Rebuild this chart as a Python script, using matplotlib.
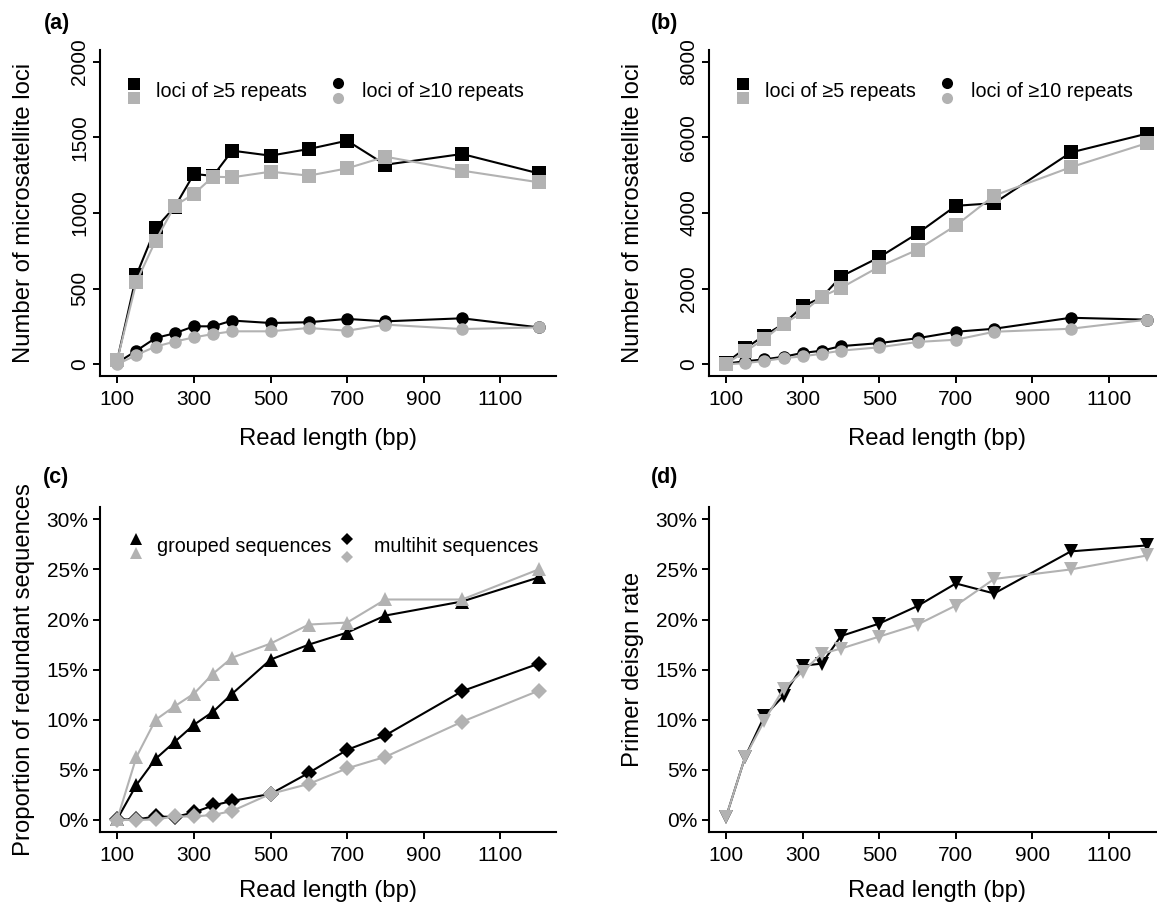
import matplotlib
matplotlib.use("Agg")
import matplotlib.pyplot as plt

plt.rcParams['font.family'] = ['Liberation Sans', 'DejaVu Sans']

# Read lengths sampled (bp)
read_len = [100, 150, 200, 250, 300, 350, 400, 500, 600, 700, 800, 1000, 1200]

# (a) microsatellite loci, first dataset
a_rep5_black = [30, 590, 900, 1040, 1258, 1245, 1412, 1379, 1423, 1478, 1319, 1390, 1262]
a_rep5_gray = [30, 546, 817, 1048, 1126, 1240, 1236, 1273, 1247, 1295, 1372, 1280, 1203]
a_rep10_black = [10, 90, 174, 205, 251, 251, 289, 273, 278, 300, 284, 304, 244]
a_rep10_gray = [0, 62, 117, 150, 178, 200, 218, 218, 240, 222, 262, 233, 244]

# (b) microsatellite loci, second dataset
b_rep5_black = [40, 420, 760, 1070, 1530, 1770, 2320, 2830, 3460, 4190, 4260, 5600, 6100]
b_rep5_gray = [10, 340, 670, 1070, 1370, 1790, 2020, 2580, 3030, 3670, 4460, 5210, 5850]
b_rep10_black = [20, 80, 130, 200, 300, 360, 480, 560, 690, 860, 940, 1230, 1180]
b_rep10_gray = [0, 30, 90, 160, 210, 280, 360, 450, 590, 650, 860, 940, 1180]

# (c) proportion of redundant sequences (%)
c_group_black = [0.1, 3.5, 6.1, 7.8, 9.5, 10.8, 12.6, 16.0, 17.5, 18.7, 20.4, 21.8, 24.2]
c_group_gray = [0.1, 6.3, 10.0, 11.35, 12.6, 14.6, 16.2, 17.6, 19.5, 19.7, 22.0, 22.0, 25.0]
c_multi_black = [0.05, 0.05, 0.35, 0.3, 0.75, 1.45, 1.9, 2.6, 4.7, 7.0, 8.45, 12.85, 15.6]
c_multi_gray = [0.0, 0.0, 0.05, 0.35, 0.35, 0.5, 0.9, 2.6, 3.6, 5.15, 6.3, 9.8, 12.9]

# (d) primer design rate (%)
d_black = [0.3, 6.3, 10.35, 12.4, 15.4, 15.6, 18.35, 19.6, 21.35, 23.6, 22.6, 26.8, 27.4]
d_gray = [0.3, 6.3, 9.9, 13.1, 14.8, 16.6, 17.1, 18.3, 19.5, 21.4, 24.05, 25.0, 26.4]

x_ticks = [100, 300, 500, 700, 900, 1100]
a_yticks = [0, 500, 1000, 1500, 2000]
b_yticks = [0, 2000, 4000, 6000, 8000]
pct_ticks = [0, 5, 10, 15, 20, 25, 30]

BLACK = "#000000"
GRAY = "#b2b2b2"
W, H = 1157, 907

fig = plt.figure(figsize=(W / 100, H / 100), dpi=100)


def px_axes(left, top, right, bottom):
    return fig.add_axes([left / W, 1 - bottom / H, (right - left) / W, (bottom - top) / H])


ax_a = px_axes(100.45, 49.6, 555.5, 376.4)
ax_b = px_axes(709.2, 49.6, 1164.2, 376.4)
ax_c = px_axes(100.45, 507.3, 555.5, 832.0)
ax_d = px_axes(709.2, 507.3, 1164.2, 832.0)


def style_axes(ax, yticks, ylabels, top, rotate):
    # R-like "L" box: 4% padding beyond the data range
    ax.set_xlim(56, 1244)
    ax.set_ylim(-0.04 * top, 1.04 * top)
    for s in ("top", "right"):
        ax.spines[s].set_visible(False)
    for s in ("left", "bottom"):
        ax.spines[s].set_linewidth(1.5)
    ax.set_xticks(x_ticks)
    ax.set_xticklabels([str(t) for t in x_ticks])
    ax.set_yticks(yticks)
    ax.set_yticklabels(ylabels)
    ax.tick_params(axis="both", direction="out", length=5, width=1.4,
                   labelsize=15, colors="black")
    ax.tick_params(axis="x", pad=5)
    if rotate:
        ax.tick_params(axis="y", pad=3)
        for lab in ax.get_yticklabels():
            lab.set_rotation(90)
            lab.set_va("center")
    else:
        ax.tick_params(axis="y", pad=3.5)
    ax.set_facecolor("none")


def series(ax, y, color, marker, ms):
    ax.plot(read_len, y, color=color, lw=1.5, marker=marker, ms=ms,
            mew=0, clip_on=False, zorder=3)


def legend_marker(ax, dx, dy, color, marker, ms):
    pos = ax.get_position()
    aw, ah = pos.width * W, pos.height * H
    ax.plot([dx / aw], [1 - dy / ah], transform=ax.transAxes, ls="none",
            marker=marker, ms=ms, mew=0, color=color, clip_on=False, zorder=4)


def legend_text(ax, dx, dy, text):
    pos = ax.get_position()
    aw, ah = pos.width * W, pos.height * H
    ax.text(dx / aw, 1 - dy / ah, text, transform=ax.transAxes,
            ha="left", va="center", fontsize=14.2)


# panels (a) and (b): loci counts
for ax, s5k, s5g, s10k, s10g, yt, top in (
        (ax_a, a_rep5_black, a_rep5_gray, a_rep10_black, a_rep10_gray, a_yticks, 2000),
        (ax_b, b_rep5_black, b_rep5_gray, b_rep10_black, b_rep10_gray, b_yticks, 8000)):
    style_axes(ax, yt, [str(t) for t in yt], top, rotate=True)
    series(ax, s5k, BLACK, "s", 10)
    series(ax, s10k, BLACK, "o", 9)
    series(ax, s5g, GRAY, "s", 10)
    series(ax, s10g, GRAY, "o", 9)
    legend_marker(ax, 34, 34.9, BLACK, "s", 8.2)
    legend_marker(ax, 34, 48.7, GRAY, "s", 8.2)
    legend_text(ax, 56, 42.1, "loci of \u22655 repeats")
    legend_marker(ax, 237.5, 33.7, BLACK, "o", 8)
    legend_marker(ax, 237.5, 48.7, GRAY, "o", 8)
    legend_text(ax, 261.5, 42.1, "loci of \u226510 repeats")

pct_labels = ["%d%%" % t for t in pct_ticks]

# panel (c): redundant sequences
style_axes(ax_c, pct_ticks, pct_labels, 30, rotate=False)
series(ax_c, c_group_black, BLACK, "^", 10.5)
series(ax_c, c_multi_black, BLACK, "D", 7.8)
series(ax_c, c_group_gray, GRAY, "^", 10.5)
series(ax_c, c_multi_gray, GRAY, "D", 7.8)
legend_marker(ax_c, 35.3, 32, BLACK, "^", 8.5)
legend_marker(ax_c, 35.3, 45.4, GRAY, "^", 8.5)
legend_text(ax_c, 56.5, 39.4, "grouped sequences")
legend_marker(ax_c, 246.5, 32, BLACK, "D", 6)
legend_marker(ax_c, 246.5, 50, GRAY, "D", 6)
legend_text(ax_c, 274, 39.4, "multihit sequences")

# panel (d): primer design rate
style_axes(ax_d, pct_ticks, pct_labels, 30, rotate=False)
series(ax_d, d_black, BLACK, "v", 10.5)
series(ax_d, d_gray, GRAY, "v", 10.5)

# axis titles and panel tags
for ax_left, ytop, ybot, ylab in ((0, 49.6, 376.4, "Number of microsatellite loci"),
                                   (609, 49.6, 376.4, "Number of microsatellite loci"),
                                   (0, 507.3, 832.0, "Proportion of redundant sequences"),
                                   (609, 507.3, 832.0, "Primer deisgn rate")):
    fig.text((ax_left + 24) / W, 1 - (ytop + ybot) / 2 / H, ylab, rotation=90,
             ha="center", va="center", fontsize=17.2)

for xc, yb in ((328, 445), (936.7, 445), (328, 897), (936.7, 897)):
    fig.text(xc / W, 1 - yb / H, "Read length (bp)", ha="center",
             va="baseline", fontsize=17.2)

for x0, yb, tag in ((44, 29, "(a)"), (651, 29, "(b)"), (43, 483, "(c)"), (651, 483, "(d)")):
    fig.text(x0 / W, 1 - yb / H, tag, ha="left", va="baseline",
             fontsize=15.5, fontweight="bold")

fig.savefig("out.png", dpi=100)
